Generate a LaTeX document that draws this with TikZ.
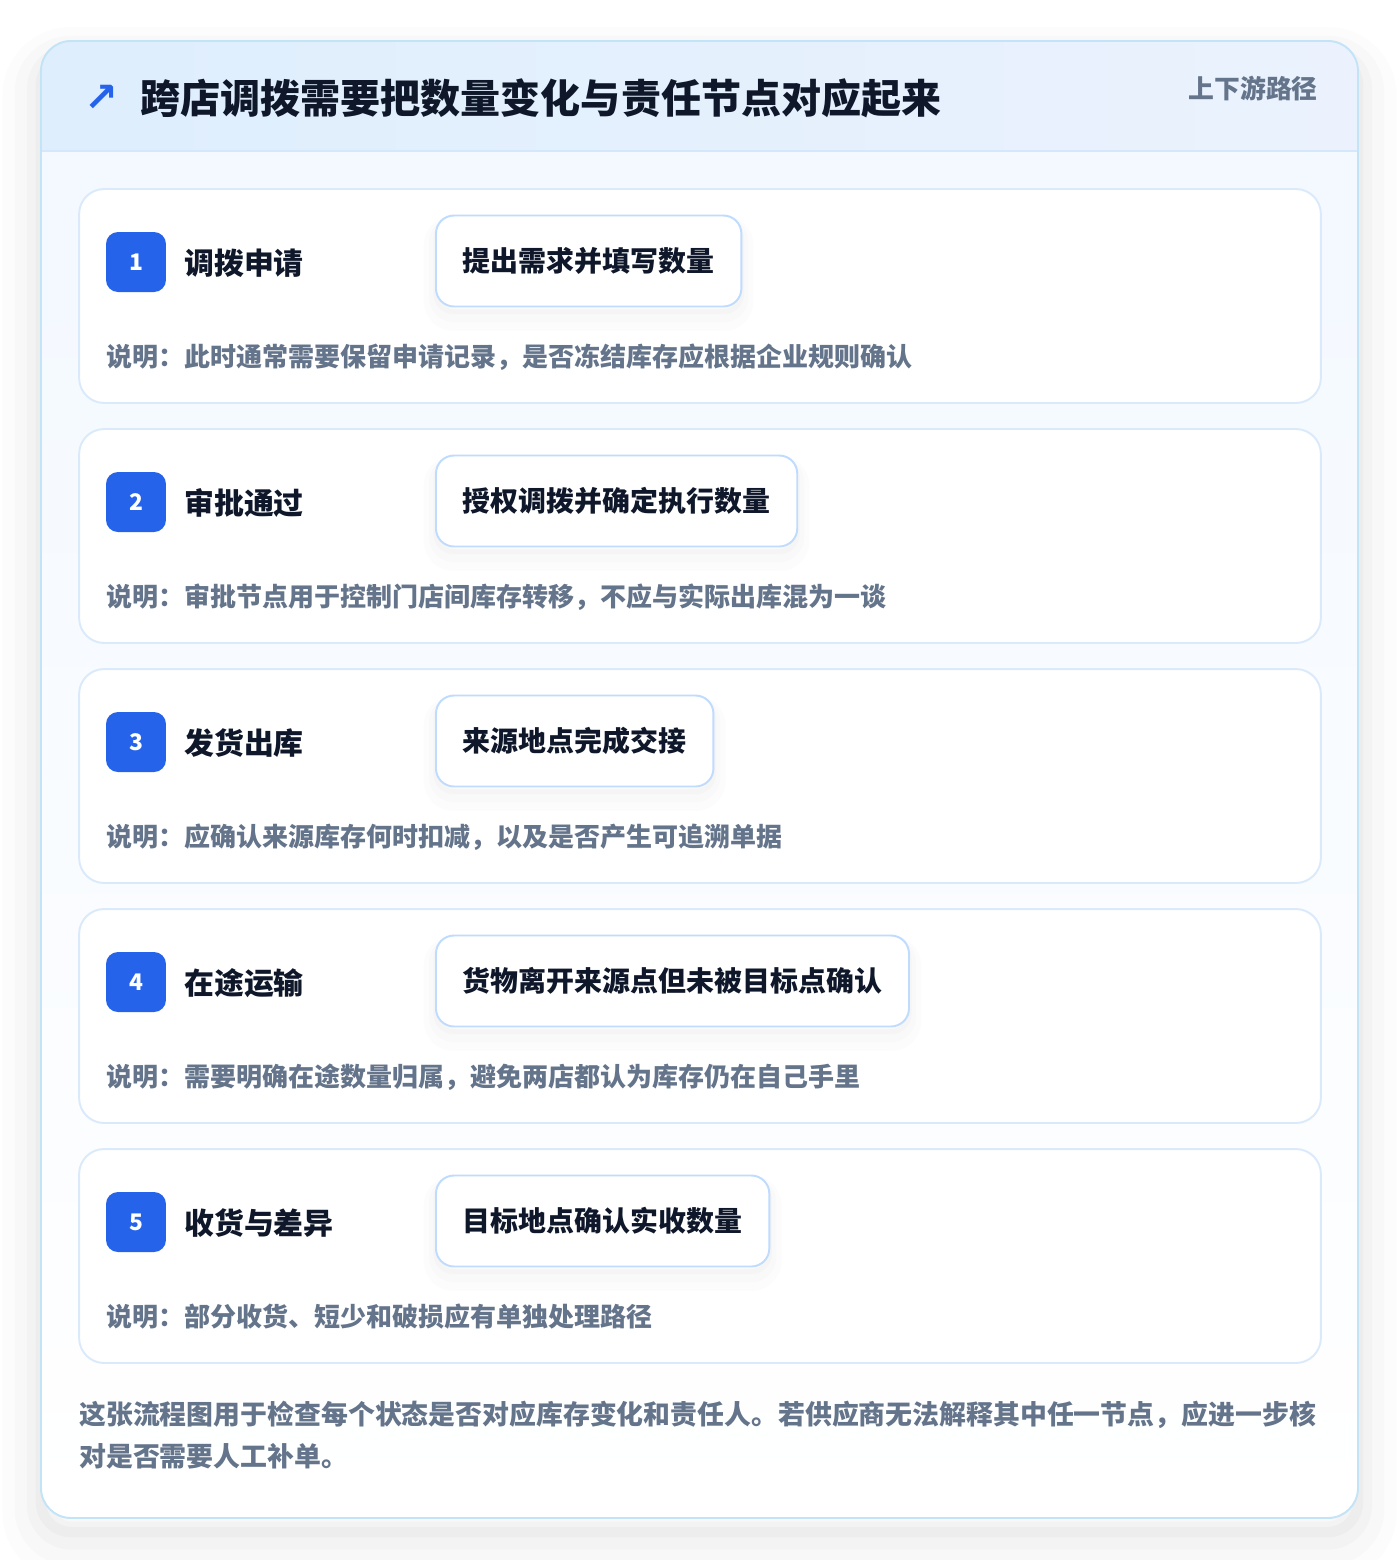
\documentclass[tikz,border=0pt]{standalone}
\usepackage{fontspec}
\setmainfont{Noto Sans CJK SC}
\newfontfamily\heavyfont{Noto Sans CJK SC Black}
\newfontfamily\symfont{DejaVu Sans}
\usetikzlibrary{positioning}
\definecolor{cardline}{HTML}{C3E3F7}
\definecolor{headleft}{HTML}{DEEEFD}
\definecolor{headright}{HTML}{EBF2FD}
\definecolor{headrule}{HTML}{D5E7FA}
\definecolor{bodytop}{HTML}{F2F8FF}
\definecolor{stepline}{HTML}{DBEAFB}
\definecolor{boxline}{HTML}{BFDBFE}
\definecolor{badgeblue}{HTML}{2563EB}
\definecolor{titleink}{HTML}{0F172A}
\definecolor{noteink}{HTML}{64748B}

\begin{document}
\begin{tikzpicture}[x=0.02cm, y=-0.02cm,
  step card/.style={draw=stepline, line width=1.1pt, fill=white, rounded corners=0.5cm, minimum width=24.84cm, minimum height=4.28cm, inner sep=0pt},
  num badge/.style={fill=badgeblue, text=white, rounded corners=0.24cm, minimum size=1.2cm, inner sep=0pt, font=\fontsize{13}{15}\selectfont\bfseries},
  step title/.style={anchor=west, inner sep=0pt, text=titleink, font=\fontsize{17}{20}\selectfont\bfseries},
  task box/.style={anchor=west, draw=boxline, line width=1.1pt, fill=white, rounded corners=0.36cm, minimum height=1.82cm, inner xsep=0.54cm, text=titleink, font=\fontsize{15.9}{19}\selectfont\bfseries,
    preaction={draw=black, line width=14pt, opacity=0.01, transform canvas={yshift=-7pt}},
    preaction={draw=black, line width=8pt, opacity=0.012, transform canvas={yshift=-5pt}},
    preaction={draw=black, line width=3pt, opacity=0.015, transform canvas={yshift=-3pt}}},
  note text/.style={anchor=west, inner sep=0pt, text=noteink, font=\fontsize{14.8}{18}\selectfont\bfseries}]
\useasboundingbox (0,0) rectangle (1400,1560);
\fill[white] (0,0) rectangle (1400,1560);
% outer card
\fill[top color=bodytop, bottom color=white, rounded corners=0.6cm,
  preaction={draw=black, line width=44pt, opacity=0.012, transform canvas={yshift=-14pt}},
  preaction={draw=black, line width=30pt, opacity=0.015, transform canvas={yshift=-12pt}},
  preaction={draw=black, line width=16pt, opacity=0.02, transform canvas={yshift=-10pt}},
  preaction={draw=black, line width=6pt, opacity=0.025, transform canvas={yshift=-8pt}}] (41,41) rectangle (1358,1518);
\begin{scope}
\clip[rounded corners=0.6cm] (41,41) rectangle (1358,1518);
\fill[left color=headleft, right color=headright] (41,41) rectangle (1358,151);
\draw[headrule, line width=1.1pt] (41,151) -- (1358,151);
\end{scope}
\draw[cardline, line width=1.1pt, rounded corners=0.6cm] (41,41) rectangle (1358,1518);
% header
\node[inner sep=0pt, text=badgeblue, font=\symfont\bfseries\fontsize{23}{25}\selectfont] (icon) at (101,98) {↗};
\node[anchor=west, inner sep=0pt, text=titleink, font=\heavyfont\fontsize{22.8}{27}\selectfont] (title) at (140,98) {跨店调拨需要把数量变化与责任节点对应起来};
\node[anchor=east, inner sep=0pt, text=noteink, font=\fontsize{14.7}{18}\selectfont\bfseries] (tag) at (1318,89) {上下游路径};
% steps
\node[step card] (c1) at (700,296) {};
\node[step card] (c2) at (700,536) {};
\node[step card] (c3) at (700,776) {};
\node[step card] (c4) at (700,1016) {};
\node[step card] (c5) at (700,1256) {};
\node[num badge] (b1) at (136,262) {1};
\node[num badge] (b2) at (136,502) {2};
\node[num badge] (b3) at (136,742) {3};
\node[num badge] (b4) at (136,982) {4};
\node[num badge] (b5) at (136,1222) {5};
\node[step title] (s1) at (184,263) {调拨申请};
\node[step title] (s2) at (184,503) {审批通过};
\node[step title] (s3) at (184,743) {发货出库};
\node[step title] (s4) at (184,983) {在途运输};
\node[step title] (s5) at (184,1223) {收货与差异};
\node[task box] (t1) at (435,261) {提出需求并填写数量};
\node[task box] (t2) at (435,501) {授权调拨并确定执行数量};
\node[task box] (t3) at (435,741) {来源地点完成交接};
\node[task box] (t4) at (435,981) {货物离开来源点但未被目标点确认};
\node[task box] (t5) at (435,1221) {目标地点确认实收数量};
\node[note text] (d1) at (106,357) {说明：此时通常需要保留申请记录，是否冻结库存应根据企业规则确认};
\node[note text] (d2) at (106,597) {说明：审批节点用于控制门店间库存转移，不应与实际出库混为一谈};
\node[note text] (d3) at (106,837) {说明：应确认来源库存何时扣减，以及是否产生可追溯单据};
\node[note text] (d4) at (106,1077) {说明：需要明确在途数量归属，避免两店都认为库存仍在自己手里};
\node[note text] (d5) at (106,1317) {说明：部分收货、短少和破损应有单独处理路径};
% footer
\node[anchor=base west, inner sep=0pt, align=left, text=noteink, font=\fontsize{15.3}{23.8}\selectfont\bfseries] (foot) at (79,1466) {这张流程图用于检查每个状态是否对应库存变化和责任人。若供应商无法解释其中任一节点，应进一步核\\对是否需要人工补单。};
\end{tikzpicture}
\end{document}
